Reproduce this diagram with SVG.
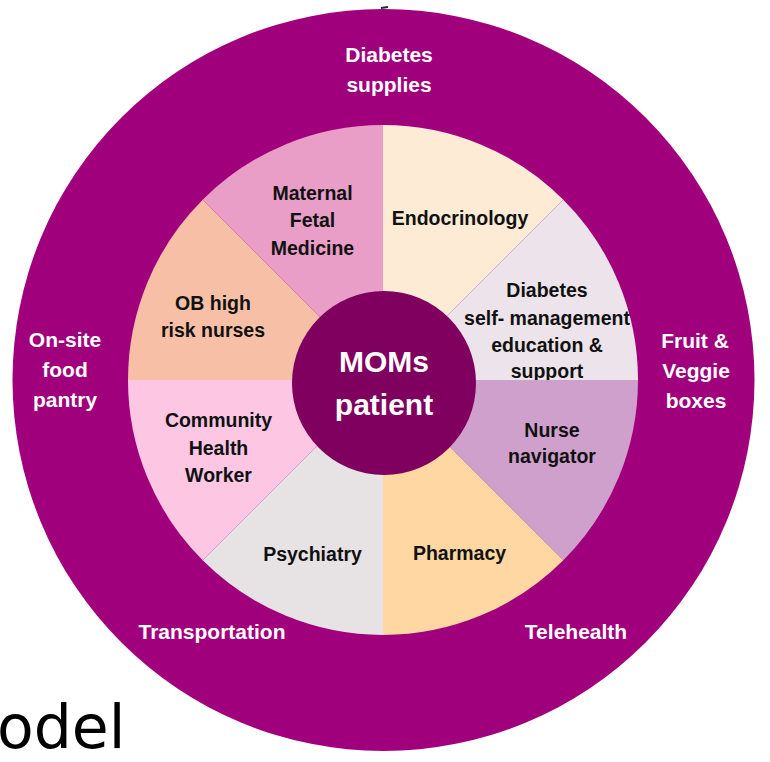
<svg xmlns="http://www.w3.org/2000/svg" width="770" height="762" viewBox="0 0 770 762">
  <style>
    .dark { font-family: "Liberation Sans", Arial, sans-serif; font-weight: bold; font-size: 19.5px; fill: #111; text-anchor: middle; }
    .light { font-family: "Liberation Sans", Arial, sans-serif; font-weight: bold; font-size: 21px; fill: #fff; text-anchor: middle; }
    .core { font-family: "Liberation Sans", Arial, sans-serif; font-weight: bold; font-size: 30px; fill: #fff; text-anchor: middle; }
  </style>
  <rect width="770" height="762" fill="#fff"/>

  <!-- outer support ring -->
  <g id="ring">
    <circle cx="383.5" cy="380" r="371" fill="#A1007C"/>
    <path d="M381 8 L388 7" stroke="#1d2b3a" stroke-width="2"/>
    <text class="light" x="389" y="62">Diabetes</text>
    <text class="light" x="389" y="92">supplies</text>
    <text class="light" x="65" y="347">On-site</text>
    <text class="light" x="65" y="377">food</text>
    <text class="light" x="65" y="407">pantry</text>
    <text class="light" x="695" y="348">Fruit  &amp;</text>
    <text class="light" x="696" y="378">Veggie</text>
    <text class="light" x="696" y="408">boxes</text>
    <text class="light" x="212" y="639">Transportation</text>
    <text class="light" x="576" y="639">Telehealth</text>
  </g>

  <!-- care team slices, centre (383,380), r=255 -->
  <g id="endocrinology">
    <path d="M383 380 L383 125 A255 255 0 0 1 563.3 199.7 Z" fill="#FDEBD5"/>
    <text class="dark" x="460" y="225">Endocrinology</text>
  </g>
  <g id="dsmes">
    <path d="M383 380 L563.3 199.7 A255 255 0 0 1 638 380 Z" fill="#ECE4EA"/>
    <text class="dark" x="547" y="297">Diabetes</text>
    <text class="dark" x="547" y="325">self- management</text>
    <text class="dark" x="547" y="352">education &amp;</text>
    <text class="dark" x="547" y="378">support</text>
  </g>
  <g id="nurse-navigator">
    <path d="M383 380 L638 380 A255 255 0 0 1 563.3 560.3 Z" fill="#CFA0CC"/>
    <text class="dark" x="552" y="437">Nurse</text>
    <text class="dark" x="552" y="463">navigator</text>
  </g>
  <g id="pharmacy">
    <path d="M383 380 L563.3 560.3 A255 255 0 0 1 383 635 Z" fill="#FED7A2"/>
    <text class="dark" x="459.5" y="560">Pharmacy</text>
  </g>
  <g id="psychiatry">
    <path d="M383 380 L383 635 A255 255 0 0 1 202.7 560.3 Z" fill="#E7E3E5"/>
    <text class="dark" x="312.5" y="561">Psychiatry</text>
  </g>
  <g id="chw">
    <path d="M383 380 L202.7 560.3 A255 255 0 0 1 128 380 Z" fill="#FDC7E4"/>
    <text class="dark" x="218.5" y="427">Community</text>
    <text class="dark" x="218.5" y="455">Health</text>
    <text class="dark" x="218.5" y="482">Worker</text>
  </g>
  <g id="ob-nurses">
    <path d="M383 380 L128 380 A255 255 0 0 1 202.7 199.7 Z" fill="#F7BFA6"/>
    <text class="dark" x="213" y="310">OB high</text>
    <text class="dark" x="213" y="337">risk nurses</text>
  </g>
  <g id="mfm">
    <path d="M383 380 L202.7 199.7 A255 255 0 0 1 383 125 Z" fill="#E89EC7"/>
    <text class="dark" x="312.5" y="200">Maternal</text>
    <text class="dark" x="312.5" y="227">Fetal</text>
    <text class="dark" x="312.5" y="255">Medicine</text>
  </g>

  <!-- patient at the centre -->
  <g id="patient">
    <circle cx="384" cy="383" r="92" fill="#7F005F"/>
    <text class="core" x="384" y="372">MOMs</text>
    <text class="core" x="384" y="415">patient</text>
  </g>

  <g id="caption">
    <text x="-3" y="748" font-family="DejaVu Sans, sans-serif" font-size="60" fill="#000">odel</text>
  </g>
</svg>
